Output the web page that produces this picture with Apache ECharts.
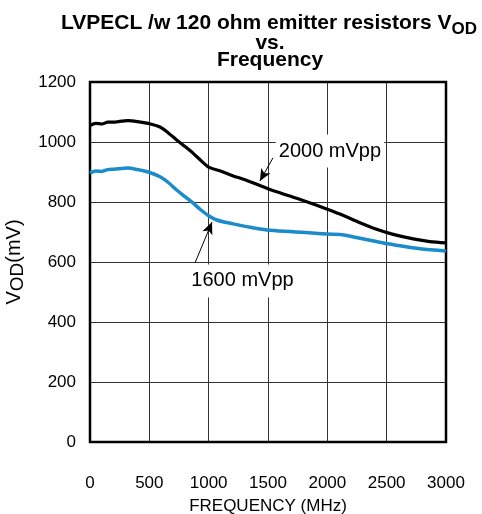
<!DOCTYPE html>
<html>
<head>
<meta charset="utf-8">
<script src="https://cdn.jsdelivr.net/npm/echarts@6/dist/echarts.min.js"></script>
<style>
  html, body { margin: 0; padding: 0; background: #fff; }
  #chart { width: 482px; height: 514px; }
</style>
</head>
<body>
<div id="chart"></div>
<script>
// frequency (MHz) / VOD (mV)
const freq2000 = [0, 50, 100, 150, 200, 250, 320, 400, 490, 590, 660, 730, 800, 870, 930, 1000, 1100, 1207, 1292, 1400, 1489, 1573, 1713, 1826, 1994, 2106, 2275, 2415, 2555, 2724, 2864, 3000]
const vod2000 = [1055, 1062, 1060, 1066, 1066, 1069, 1071, 1068, 1062, 1050, 1030, 1007, 985, 962, 940, 916, 903, 887, 876, 860, 846, 834, 816, 801, 777, 760, 731, 709, 692, 677, 668, 664]

const freq1600 = [0, 50, 100, 150, 200, 320, 400, 490, 590, 660, 730, 800, 870, 930, 1000, 1067, 1207, 1320, 1489, 1713, 1994, 2106, 2275, 2443, 2612, 2780, 3000]
const vod1600 = [897, 903, 902, 908, 909, 913, 908, 900, 884, 865, 840, 818, 796, 775, 754, 740, 727, 718, 707, 701, 693, 692, 679, 666, 654, 644, 637]

const xTicks = [0, 500, 1000, 1500, 2000, 2500, 3000]
const yTicks = [0, 200, 400, 600, 800, 1000, 1200]

const FONT = 'Liberation Sans, Arial, sans-serif'

const chart = echarts.init(document.getElementById('chart'))

const zip = (xs, ys) => xs.map((x, i) => [x, ys[i]])

const labelStyle = {
  show: true,
  color: '#000',
  fontFamily: FONT,
  fontSize: 20,
  backgroundColor: '#fff',
  padding: [7, 3, 6, 3],
}

const arrowLine = {
  silent: true,
  symbol: ['none', 'arrow'],
  symbolSize: [8, 12],
  lineStyle: { color: '#000', width: 1, type: 'solid' },
  label: { show: false },
}

const titleFont = { fontFamily: FONT, fontWeight: 'bold', color: '#000' }
const axisFont = { fontFamily: FONT, color: '#000' }

const option = {
  animation: false,
  backgroundColor: '#fff',
  title: [
    {
      text: '{m|LVPECL /w 120 ohm emitter resistors V}{s|OD}',
      left: 264,
      top: 15,
      textAlign: 'center',
      textStyle: {
        rich: {
          m: Object.assign({ fontSize: 21, lineHeight: 18, verticalAlign: 'bottom', padding: [0, 0, 4, 0] }, titleFont),
          s: Object.assign({ fontSize: 17, lineHeight: 18, verticalAlign: 'bottom' }, titleFont),
        },
      },
    },
    {
      text: 'vs.\nFrequency',
      left: 265,
      top: 30,
      textAlign: 'center',
      textStyle: Object.assign({ fontSize: 21, lineHeight: 17 }, titleFont),
    },
  ],
  grid: {
    left: 90,
    right: 36,
    top: 82,
    bottom: 72,
    outerBoundsMode: 'none',
    show: true,
    borderColor: '#000',
    borderWidth: 2.5,
    backgroundColor: 'transparent',
    z: 3,
  },
  xAxis: {
    type: 'value',
    min: xTicks[0],
    max: xTicks[xTicks.length - 1],
    interval: xTicks[1] - xTicks[0],
    name: 'FREQUENCY (MHz)',
    nameLocation: 'middle',
    nameGap: 56,
    nameTextStyle: Object.assign({ fontSize: 17 }, axisFont),
    axisLine: { show: false },
    axisTick: { show: false },
    axisLabel: Object.assign({ margin: 33, fontSize: 17, formatter: (v) => String(v) }, axisFont),
    splitLine: { show: true, lineStyle: { color: '#333', width: 1 } },
  },
  yAxis: {
    type: 'value',
    min: yTicks[0],
    max: yTicks[yTicks.length - 1],
    interval: yTicks[1] - yTicks[0],
    name: '{a|V}{s|OD}{a|(mV)}',
    nameLocation: 'middle',
    nameGap: 41,
    nameTextStyle: {
      rich: {
        a: Object.assign({ fontSize: 20, lineHeight: 22, verticalAlign: 'bottom', padding: [0, 0, 3, 0] }, axisFont),
        s: Object.assign({ fontSize: 19, lineHeight: 22, verticalAlign: 'bottom' }, axisFont),
      },
    },
    axisLine: { show: false },
    axisTick: { show: false },
    axisLabel: Object.assign({ margin: 14, fontSize: 17, formatter: (v) => String(v) }, axisFont),
    splitLine: { show: true, lineStyle: { color: '#333', width: 1 } },
  },
  series: [
    {
      name: '2000 mVpp',
      type: 'line',
      data: zip(freq2000, vod2000),
      showSymbol: false,
      smooth: 0.3,
      lineStyle: { color: '#000', width: 3.2 },
      z: 4,
      markLine: Object.assign({}, arrowLine, {
        data: [[{ coord: [1542, 947] }, { coord: [1432, 870] }]],
      }),
      markPoint: {
        silent: true,
        symbol: 'rect',
        symbolSize: 0,
        label: labelStyle,
        data: [{ coord: [2022, 970], value: '2000 mVpp' }],
      },
    },
    {
      name: '1600 mVpp',
      type: 'line',
      data: zip(freq1600, vod1600),
      showSymbol: false,
      smooth: 0.3,
      lineStyle: { color: '#1b8bc9', width: 3.5 },
      z: 4,
      markLine: Object.assign({}, arrowLine, {
        data: [[{ coord: [885, 597] }, { coord: [1028, 733] }]],
      }),
      markPoint: {
        silent: true,
        symbol: 'rect',
        symbolSize: 0,
        label: labelStyle,
        data: [{ coord: [1285, 537], value: '1600 mVpp' }],
      },
    },
  ],
}

chart.setOption(option)
window.addEventListener('resize', () => chart.resize())
</script>
</body>
</html>
